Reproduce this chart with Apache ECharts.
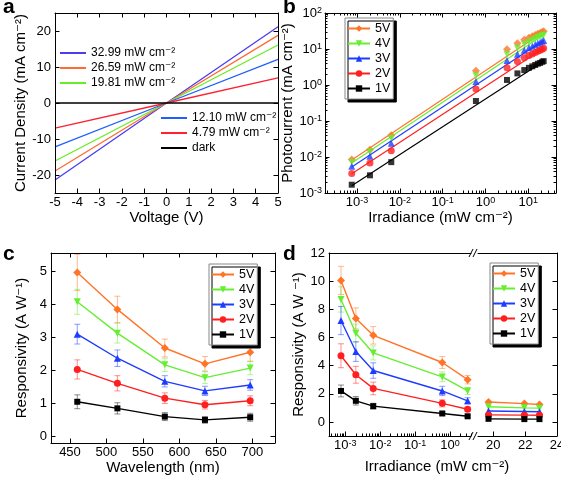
<!DOCTYPE html>
<html><head><meta charset="utf-8">
<script src="https://cdn.jsdelivr.net/npm/echarts@6/dist/echarts.min.js"></script>
<style>html,body{margin:0;padding:0;background:#fff}#c{width:561px;height:478px}</style>
</head><body><div id="c"></div><script>
// ---------------- DATA ----------------
// Panel a: J-V curves
const voltage = [-5, 0, 5];
const aNames = ['32.99 mW cm⁻²', '26.59 mW cm⁻²', '19.81 mW cm⁻²', '12.10 mW cm⁻²', '4.79 mW cm⁻²', 'dark'];
const aJ3299 = [-21.4, 0, 21.2];
const aJ2659 = [-18.9, 0, 18.8];
const aJ1981 = [-16.1, 0, 16.1];
const aJ1210 = [-12.2, 0, 12.1];
const aJ479 = [-7.0, 0, 6.95];
const aJdark = [0, 0, 0];
const aXTicks = [-5, -4, -3, -2, -1, 0, 1, 2, 3, 4, 5];
const aYTicks = [-20, -10, 0, 10, 20];

// Panel b: photocurrent vs irradiance (log-log)
const bIrr = [0.00075, 0.002, 0.0063, 0.6, 3.2, 5.6, 8.1, 10.4, 12.5, 14.6, 16.8, 19.0, 21.2, 23.0];
const bPc5 = [0.0085, 0.016, 0.040, 2.5, 9.8, 14.5, 18, 20.5, 22.5, 24.5, 26.5, 28, 29.5, 31];
const bPc4 = [0.0072, 0.014, 0.033, 1.8, 7.0, 10.5, 13.5, 15.5, 17.5, 19.2, 20.8, 22.2, 23.5, 24.5];
const bPc3 = [0.0055, 0.0105, 0.024, 1.25, 4.8, 7.2, 9.2, 10.8, 12.0, 13.3, 14.4, 15.4, 16.4, 17.3];
const bPc2 = [0.0035, 0.0068, 0.015, 0.78, 3.0, 4.5, 5.7, 6.6, 7.3, 8.0, 8.7, 9.3, 9.9, 10.5];
const bPc1 = [0.0017, 0.0031, 0.0072, 0.36, 1.38, 2.1, 2.6, 3.0, 3.3, 3.6, 3.9, 4.1, 4.4, 4.6];
const bFitIrr = [0.00075, 23.0];
const bFit5 = [0.0082, 30];
const bFit4 = [0.0068, 25];
const bFit3 = [0.0053, 17.5];
const bFit2 = [0.0034, 10.5];
const bFit1 = [0.0016, 4.6];
const bXTicks = [1e-3, 1e-2, 1e-1, 1, 10];
const bYTicks = [1e-3, 1e-2, 1e-1, 1, 10, 100];

// Panel c: responsivity vs wavelength
const wavelength = [460, 515, 580, 635, 697];
const cR5 = [4.97, 3.85, 2.68, 2.20, 2.55];
const cR4 = [4.08, 3.13, 2.17, 1.78, 2.07];
const cR3 = [3.10, 2.37, 1.67, 1.38, 1.56];
const cR2 = [2.03, 1.61, 1.16, 0.96, 1.08];
const cR1 = [1.05, 0.85, 0.60, 0.50, 0.58];
const cE5 = [0.55, 0.40, 0.27, 0.22, 0.27];
const cE4 = [0.38, 0.30, 0.20, 0.18, 0.20];
const cE3 = [0.30, 0.25, 0.17, 0.14, 0.16];
const cE2 = [0.29, 0.23, 0.16, 0.13, 0.15];
const cE1 = [0.21, 0.17, 0.12, 0.10, 0.12];
const cXTicks = [450, 500, 550, 600, 650, 700];
const cYTicks = [0, 1, 2, 3, 4, 5];

// Panel d: responsivity vs irradiance (broken axis)
const dIrrLow = [0.00075, 0.002, 0.0063, 0.6, 3.2];
const dIrrHigh = [19.7, 21.95, 22.9];
const dR5 = [10.05, 7.35, 6.15, 4.22, 3.0];
const dR4 = [8.7, 6.3, 4.9, 3.2, 2.2];
const dR3 = [7.2, 5.0, 3.65, 2.2, 1.5];
const dR2 = [4.7, 3.35, 2.38, 1.32, 0.9];
const dR1 = [2.2, 1.5, 1.12, 0.6, 0.4];
const dR5h = [1.42, 1.30, 1.24];
const dR4h = [1.08, 1.00, 0.98];
const dR3h = [0.78, 0.74, 0.72];
const dR2h = [0.50, 0.48, 0.47];
const dR1h = [0.22, 0.20, 0.20];
const dE5 = [1.0, 0.75, 0.62, 0.42, 0.3];
const dE4 = [0.9, 0.65, 0.5, 0.35, 0.25];
const dE3 = [1.0, 0.7, 0.55, 0.33, 0.22];
const dE2 = [0.85, 0.6, 0.45, 0.25, 0.15];
const dE1 = [0.42, 0.3, 0.2, 0.1, 0.08];
const dXTicksLog = [1e-3, 1e-2, 1e-1, 1];
const dXTicksLin = [20, 22, 24];
const dYTicks = [0, 2, 4, 6, 8, 10, 12];

const biasNames = ['5V', '4V', '3V', '2V', '1V'];

// ---------------- STYLE ----------------
const FONT = '"Liberation Sans", Arial, "DejaVu Sans", sans-serif';
const pow10 = v => '10{s|' + Math.round(Math.log10(v)) + '}';
const powRich = {s: {fontSize: 9, verticalAlign: 'top', fontFamily: FONT, color: '#000'}};
const aColors = ['#4b3cf0', '#ff6a35', '#66ee22', '#1f5fff', '#ff2030', '#000000'];
const vColors = ['#ff7426', '#66ee33', '#1e3cff', '#ff1f1f', '#000000'];
const vErrColors = ['rgba(255,116,38,0.5)', 'rgba(102,238,51,0.5)', 'rgba(30,60,255,0.5)', 'rgba(255,31,31,0.5)', 'rgba(0,0,0,0.45)'];
const vSymbols = ['diamond', 'triangle', 'triangle', 'circle', 'rect'];
const vRotate = [0, 180, 0, 0, 0];
const vSize = [8, 7, 7, 7, 6];

function logMinor(e0, e1) {
  const out = [];
  for (let e = e0; e <= e1; e++) for (let k = 2; k <= 9; k++) out.push(k * Math.pow(10, e));
  return out;
}

const xAxes = [], yAxes = [];
function mkAxis(dim, grid, s, pos, role) {
  const isMinor = role === 'minor' || role === 'minorMirror';
  const isMain = role === 'main';
  const o = {gridIndex: grid, type: s.type, min: s.min, max: s.max, position: pos,
    splitLine: {show: false}, axisPointer: {show: false}, silent: true, z: 5};
  if (s.type === 'log') o.logBase = 10;
  o.axisLine = {show: !isMinor, onZero: false, lineStyle: {color: '#000', width: 1}};
  const tv = isMinor ? s.minor : s.ticks;
  const showTick = !!tv && (isMain || role === 'minor' || s.mirrorTicks !== false);
  o.axisTick = {show: showTick, inside: true, length: isMinor ? 2.5 : 4.5, customValues: tv || [], lineStyle: {color: '#000', width: 1}};
  o.axisLabel = isMain ? {show: true, customValues: s.labels, formatter: s.fmt, rich: s.rich, color: '#000',
    fontSize: s.fontSize || 13, fontFamily: FONT, margin: s.margin || 4} : {show: false};
  if (isMain && s.name) {
    o.name = s.name; o.nameLocation = 'middle'; o.nameGap = s.nameGap;
    o.nameTextStyle = {fontSize: 15, fontFamily: FONT, color: '#000'};
  }
  const list = dim === 'x' ? xAxes : yAxes;
  list.push(o);
  return list.length - 1;
}
function axisSet(dim, grid, s) {
  const pos = dim === 'x' ? ['bottom', 'top'] : ['left', 'right'];
  const main = mkAxis(dim, grid, s, s.pos || pos[0], 'main');
  if (s.minor) mkAxis(dim, grid, s, s.pos || pos[0], 'minor');
  if (s.mirror !== false) {
    mkAxis(dim, grid, s, pos[1], 'mirror');
    if (s.minor && s.mirrorTicks !== false) mkAxis(dim, grid, s, pos[1], 'minorMirror');
  }
  return main;
}

const grids = [
  {left: 55, top: 13, width: 223, height: 180},
  {left: 325, top: 13, width: 231, height: 180},
  {left: 51, top: 253, width: 224, height: 190},
  {left: 329, top: 253, width: 142, height: 183},
  {left: 478, top: 253, width: 79, height: 183}
].map(g => Object.assign(g, {containLabel: false, outerBoundsMode: 'none'}));

// Panel a axes
const aX = axisSet('x', 0, {type: 'value', min: -5, max: 5, labels: aXTicks, ticks: aXTicks, margin: 3, name: 'Voltage (V)', nameGap: 14});
const aY = axisSet('y', 0, {type: 'value', min: -25, max: 25, labels: aYTicks, ticks: aYTicks, name: 'Current Density (mA cm⁻²)', nameGap: 24});
// Panel b axes
const bX = axisSet('x', 1, {type: 'log', min: Math.pow(10, -3.75), max: Math.pow(10, 1.65), labels: bXTicks, ticks: bXTicks, minor: logMinor(-4, 1), fmt: pow10, rich: powRich, margin: 3, name: 'Irradiance (mW cm⁻²)', nameGap: 17});
const bY = axisSet('y', 1, {type: 'log', min: 1e-3, max: 100, labels: bYTicks, ticks: bYTicks, minor: logMinor(-3, 1), fmt: pow10, rich: powRich, margin: 3, name: 'Photocurrent (mA cm⁻²)', nameGap: 24});
// Panel c axes
const cX = axisSet('x', 2, {type: 'value', min: 424, max: 731, labels: cXTicks, ticks: cXTicks, margin: 3, name: 'Wavelength (nm)', nameGap: 13});
const cY = axisSet('y', 2, {type: 'value', min: -0.2, max: 5.56, labels: cYTicks, ticks: cYTicks, name: 'Responsivity (A W⁻¹)', nameGap: 22});
// Panel d axes (left log part, right linear part)
const dXL = axisSet('x', 3, {type: 'log', min: 3.4e-4, max: 4.0, labels: dXTicksLog, ticks: dXTicksLog, minor: logMinor(-4, 0), fmt: pow10, rich: powRich, margin: 3, mirrorTicks: false});
const dYL = axisSet('y', 3, {type: 'value', min: -1, max: 12, labels: dYTicks, ticks: dYTicks, mirror: false, name: 'Responsivity (A W ⁻¹)', nameGap: 22});
const dXR = axisSet('x', 4, {type: 'value', min: 19.04, max: 24, labels: dXTicksLin, ticks: dXTicksLin, margin: 3, mirrorTicks: false});
const dYR = axisSet('y', 4, {type: 'value', min: -1, max: 12, ticks: dYTicks, labels: [], pos: 'right', mirror: false});

// ---------------- SERIES ----------------
const series = [];
const zip = (xs, ys) => xs.map((x, i) => [x, ys[i]]);

// a
[aJ3299, aJ2659, aJ1981, aJ1210, aJ479, aJdark].forEach((ys, i) => {
  series.push({type: 'line', name: aNames[i], xAxisIndex: aX, yAxisIndex: aY, data: zip(voltage, ys),
    symbol: 'none', lineStyle: {color: aColors[i], width: 1.3}, itemStyle: {color: aColors[i]}, z: 2});
});

function errSeries(xi, yi, xs, ys, es, color) {
  return {type: 'custom', xAxisIndex: xi, yAxisIndex: yi, silent: true, clip: true, z: 1,
    data: xs.map((x, i) => [x, ys[i], es[i]]), encode: {x: 0, y: 1},
    renderItem: (params, api) => {
      const x = api.value(0), y = api.value(1), e = api.value(2);
      const p1 = api.coord([x, y + e]), p2 = api.coord([x, y - e]);
      const w = 3, st = {stroke: color, lineWidth: 1};
      return {type: 'group', children: [
        {type: 'line', shape: {x1: p1[0], y1: p1[1], x2: p2[0], y2: p2[1]}, style: st},
        {type: 'line', shape: {x1: p1[0] - w, y1: p1[1], x2: p1[0] + w, y2: p1[1]}, style: st},
        {type: 'line', shape: {x1: p2[0] - w, y1: p2[1], x2: p2[0] + w, y2: p2[1]}, style: st}
      ]};
    }};
}
function markerLine(name, i, xi, yi, data, extra) {
  return Object.assign({type: 'line', name: name, xAxisIndex: xi, yAxisIndex: yi, data: data,
    symbol: vSymbols[i], symbolRotate: vRotate[i], symbolSize: vSize[i], showSymbol: true,
    lineStyle: {color: vColors[i], width: 1.4}, itemStyle: {color: vColors[i]}, z: 3}, extra || {});
}

// b: fit lines (first, so legend icon uses them) then points
const bPcs = [bPc5, bPc4, bPc3, bPc2, bPc1];
const bFits = [bFit5, bFit4, bFit3, bFit2, bFit1];
biasNames.forEach((n, i) => {
  series.push(markerLine(n, i, bX, bY, zip(bFitIrr, bFits[i]), {showSymbol: false, lineStyle: {color: vColors[i], width: 1.2}}));
});
biasNames.forEach((n, i) => {
  series.push({type: 'scatter', name: n, xAxisIndex: bX, yAxisIndex: bY, data: zip(bIrr, bPcs[i]),
    symbol: vSymbols[i], symbolRotate: vRotate[i], symbolSize: vSize[i], itemStyle: {color: vColors[i]}, z: 4});
});

// c
const cRs = [cR5, cR4, cR3, cR2, cR1], cEs = [cE5, cE4, cE3, cE2, cE1];
biasNames.forEach((n, i) => series.push(markerLine(n, i, cX, cY, zip(wavelength, cRs[i]))));
biasNames.forEach((n, i) => series.push(errSeries(cX, cY, wavelength, cRs[i], cEs[i], vErrColors[i])));

// d
const dRs = [dR5, dR4, dR3, dR2, dR1], dRhs = [dR5h, dR4h, dR3h, dR2h, dR1h], dEs = [dE5, dE4, dE3, dE2, dE1];
biasNames.forEach((n, i) => series.push(markerLine(n, i, dXL, dYL, zip(dIrrLow, dRs[i]))));
biasNames.forEach((n, i) => series.push(markerLine(n, i, dXR, dYR, zip(dIrrHigh, dRhs[i]))));
biasNames.forEach((n, i) => series.push(errSeries(dXL, dYL, dIrrLow, dRs[i], dEs[i], vErrColors[i])));

// ---------------- LEGENDS ----------------
const legText = {fontSize: 12.5, fontFamily: FONT, color: '#000'};
function boxLegend(left, top) {
  return {data: biasNames, orient: 'vertical', left: left, top: top, selectedMode: false,
    itemWidth: 22, itemHeight: 8, itemGap: 2, padding: [4, 3, 4, 2],
    borderColor: '#888', borderWidth: 1, backgroundColor: '#fff',
    shadowColor: '#000', shadowBlur: 0, shadowOffsetX: 3, shadowOffsetY: 3,
    textStyle: Object.assign({lineHeight: 13}, legText)};
}
const aLegText = {fontSize: 12, fontFamily: FONT, color: '#000', lineHeight: 14};
const legends = [
  {data: aNames.slice(0, 3), orient: 'vertical', left: 60, top: 46, selectedMode: false, icon: 'rect',
    itemWidth: 26, itemHeight: 2, itemGap: 1, padding: 0, textStyle: aLegText},
  {data: aNames.slice(3), orient: 'vertical', left: 161, top: 111, selectedMode: false, icon: 'rect',
    itemWidth: 26, itemHeight: 2, itemGap: 1, padding: 0, textStyle: aLegText},
  boxLegend(345, 18),
  boxLegend(209, 264),
  boxLegend(490, 263)
];

// ---------------- DECORATIONS ----------------
const letter = (t, x, y) => ({type: 'text', left: x, top: y, style: {text: t, font: 'bold 21px ' + FONT, fill: '#000'}});
const brk = (x, y) => ({type: 'group', children: [
  {type: 'line', shape: {x1: x - 4, y1: y + 4, x2: x, y2: y - 4}, style: {stroke: '#000', lineWidth: 1}},
  {type: 'line', shape: {x1: x, y1: y + 4, x2: x + 4, y2: y - 4}, style: {stroke: '#000', lineWidth: 1}}
]});
const graphics = [
  letter('a', 3, -3), letter('b', 283, -3), letter('c', 3, 244), letter('d', 283, 244),
  {type: 'text', x: 437, y: 459, style: {text: 'Irradiance (mW cm⁻²)', font: '15px ' + FONT, fill: '#000', textAlign: 'center'}},
  {type: 'group', children: [brk(473, 253), brk(473, 436)]}
];

const chart = echarts.init(document.getElementById('c'), null, {renderer: 'canvas', width: 561, height: 478});
chart.setOption({
  animation: false,
  backgroundColor: '#fff',
  textStyle: {fontFamily: FONT},
  grid: grids,
  xAxis: xAxes,
  yAxis: yAxes,
  legend: legends,
  series: series,
  graphic: graphics
});
</script></body></html>
